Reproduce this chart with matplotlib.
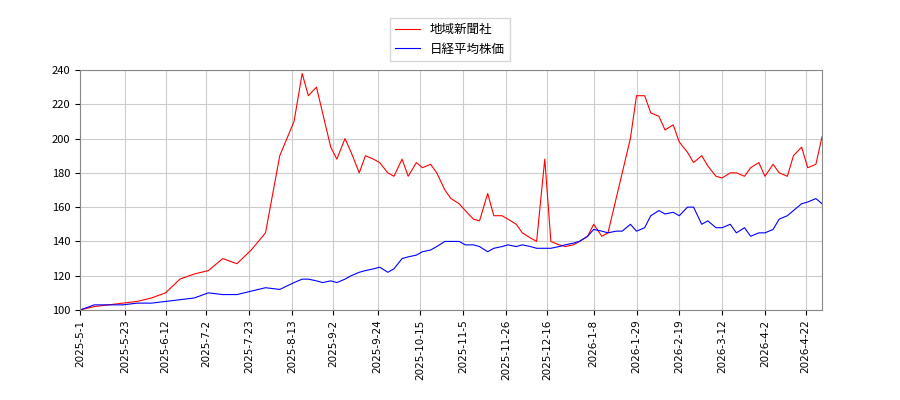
import matplotlib
matplotlib.use("Agg")
import matplotlib.pyplot as plt
import pandas as pd

plt.rcParams['font.family'] = ['Noto Sans CJK JP', 'DejaVu Sans']

dates = ["2025-05-01","2025-05-08","2025-05-15","2025-05-22","2025-05-29","2025-06-05","2025-06-12","2025-06-19","2025-06-26","2025-07-03","2025-07-10","2025-07-17","2025-07-24","2025-07-31",
         "2025-08-07","2025-08-14","2025-08-18","2025-08-21","2025-08-25","2025-08-28","2025-09-01","2025-09-04","2025-09-08","2025-09-11","2025-09-15","2025-09-18","2025-09-22","2025-09-25","2025-09-29",
         "2025-10-02","2025-10-06","2025-10-09","2025-10-13","2025-10-16","2025-10-20","2025-10-23","2025-10-27","2025-10-30","2025-11-03","2025-11-06","2025-11-10","2025-11-13","2025-11-17","2025-11-20","2025-11-24","2025-11-27",
         "2025-12-01","2025-12-04","2025-12-08","2025-12-11","2025-12-15","2025-12-18","2025-12-22","2025-12-25","2025-12-29",
         "2026-01-01","2026-01-05","2026-01-08","2026-01-12","2026-01-15","2026-01-19","2026-01-22","2026-01-26","2026-01-29","2026-02-02","2026-02-05","2026-02-09","2026-02-12","2026-02-16","2026-02-19","2026-02-23","2026-02-26",
         "2026-03-02","2026-03-05","2026-03-09","2026-03-12","2026-03-16","2026-03-19","2026-03-23","2026-03-26","2026-03-30","2026-04-02","2026-04-06","2026-04-09","2026-04-13","2026-04-16","2026-04-20","2026-04-23","2026-04-27","2026-04-30"]
company = [100,102,103,104,105,107,110,118,121,123,130,127,135,145,
           190,210,238,225,230,215,195,188,200,192,180,190,188,186,180,
           178,188,178,186,183,185,180,170,165,162,158,153,152,168,155,155,153,
           150,145,142,140,188,140,138,137,138,
           140,143,150,143,145,165,180,200,225,225,215,213,205,208,198,192,186,
           190,184,178,177,180,180,178,183,186,178,185,180,178,190,195,183,185,201]
nikkei = [100,103,103,103,104,104,105,106,107,110,109,109,111,113,
          112,116,118,118,117,116,117,116,118,120,122,123,124,125,122,
          124,130,131,132,134,135,137,140,140,140,138,138,137,134,136,137,138,
          137,138,137,136,136,136,137,138,139,
          140,143,147,146,145,146,146,150,146,148,155,158,156,157,155,160,160,
          150,152,148,148,150,145,148,143,145,145,147,153,155,158,162,163,165,162]
labels = ["地域新聞社", "日経平均株価"]
tick_dates = ["2025-05-01","2025-05-23","2025-06-12","2025-07-02","2025-07-23","2025-08-13","2025-09-02","2025-09-24",
              "2025-10-15","2025-11-05","2025-11-26","2025-12-16","2026-01-08","2026-01-29","2026-02-19","2026-03-12",
              "2026-04-02","2026-04-22"]

x = pd.to_datetime(dates)
fig = plt.figure(figsize=(9, 4), dpi=100)
ax = fig.add_axes([80/900, 90/400, 742/900, 240/400])
ax.plot(x, company, color="red", lw=0.8, label=labels[0])
ax.plot(x, nikkei, color="blue", lw=0.8, label=labels[1])
ax.set_ylim(100, 240)
ax.set_yticks(range(100, 241, 20))
ticks = pd.to_datetime(tick_dates)
ax.set_xticks(ticks)
ax.set_xticklabels([f"{t.year}-{t.month}-{t.day}" for t in ticks], rotation=90, fontsize=7.5, family="DejaVu Sans")
ax.set_xlim(pd.Timestamp("2025-05-01"), pd.Timestamp("2026-04-30"))
ax.tick_params(axis='y', labelsize=8)
ax.grid(True, color="#cccccc", lw=0.8)
for s in ax.spines.values():
    s.set_color("#888888")
fig.legend(loc="upper center", bbox_to_anchor=(0.5, 0.97), fontsize=9, fancybox=False)
fig.savefig("out.png")
